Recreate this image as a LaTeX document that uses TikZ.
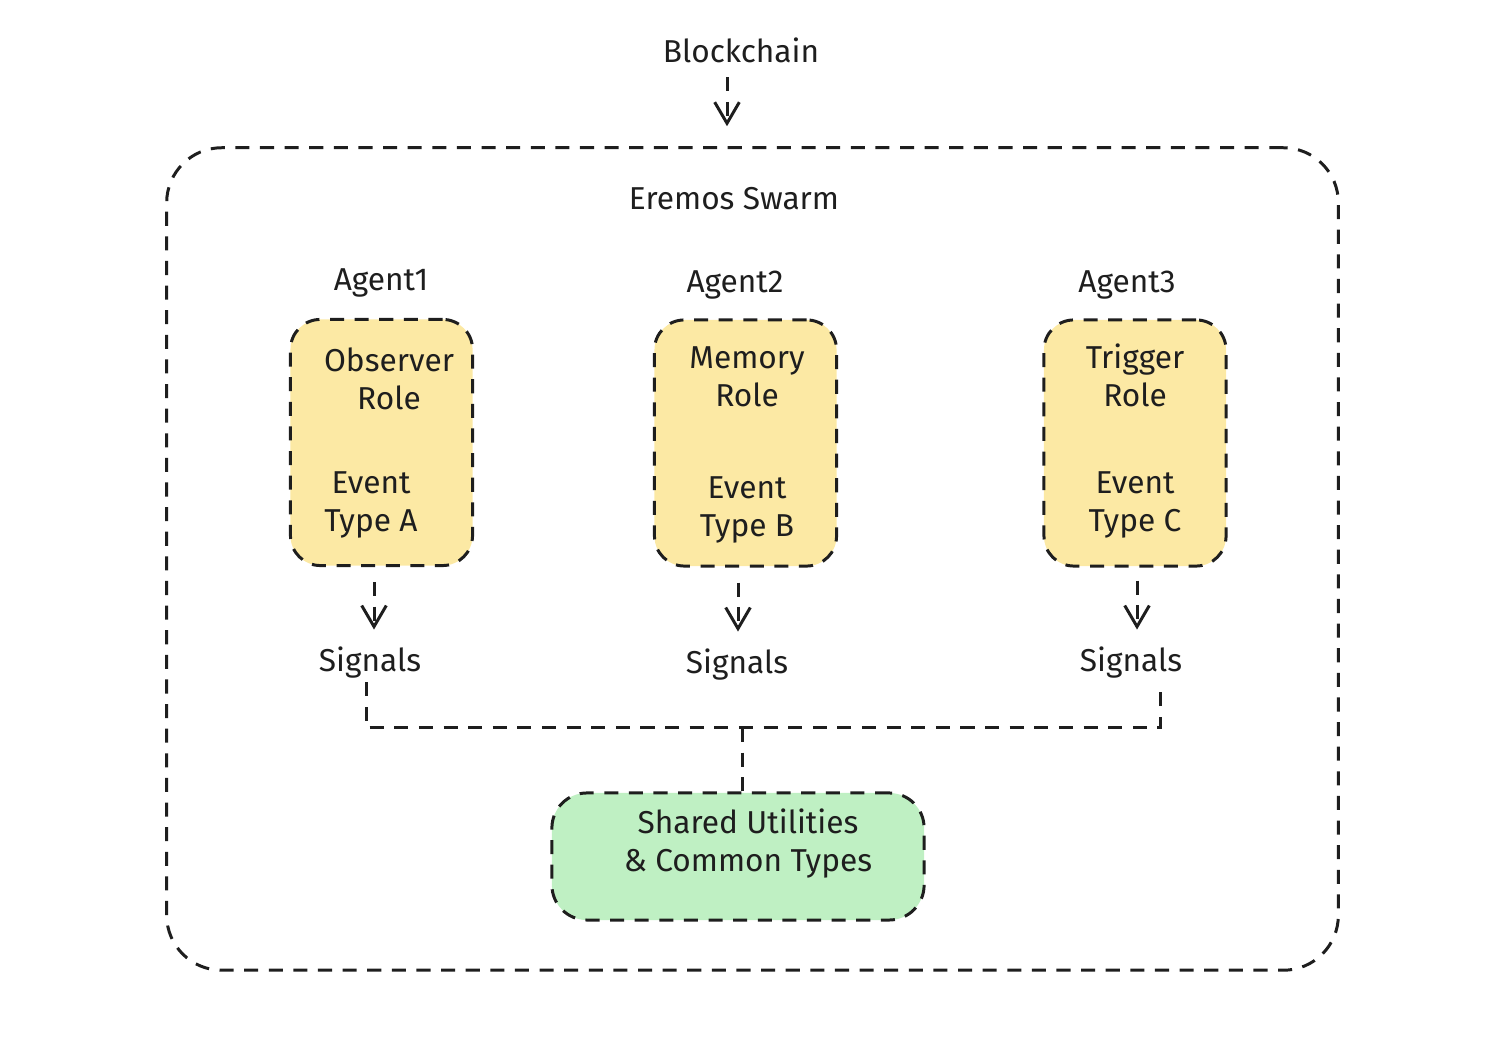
\documentclass[tikz,border=0pt]{standalone}
\usepackage{fontspec}
\setmainfont{Fira Sans}
\usetikzlibrary{arrows.meta,calc,positioning}
\definecolor{ink}{HTML}{1E1E1E}
\definecolor{roleyellow}{HTML}{FCE9A4}
\definecolor{sharedgreen}{HTML}{BFF0C3}

\begin{document}
\begin{tikzpicture}[x=0.01cm, y=0.01cm, every node/.style={font=\fontsize{9}{10.8}\selectfont, text=ink}]
    \tikzset{DashStyle/.style = {draw=ink, line width=0.85pt,
        dash pattern=on 4pt off 3pt},
      RoleStyle/.style = {DashStyle, fill=roleyellow, rounded corners=0.3cm,
        minimum width=1.82cm, minimum height=2.46cm},
      SharedStyle/.style = {DashStyle, fill=sharedgreen, rounded corners=0.35cm,
        minimum width=3.72cm, minimum height=1.27cm},
      TextStyle/.style = {inner sep=0pt, align=center},
      FlowStyle/.style = {DashStyle, -{Straight Barb[length=6pt,width=7pt]}},
      LinkStyle/.style = {DashStyle}}
    \useasboundingbox (0,0) rectangle (1507,1040);
    % outer swarm
    \node[DashStyle, rounded corners=0.55cm, minimum width=11.71cm, minimum height=8.22cm] (swarm) at (752.5,481) {};
    \node[TextStyle] (chain) at (741,990) {Blockchain};
    \node[TextStyle] (title) at (734,841) {Eremos Swarm};
    % agents
    \node[RoleStyle] (A1) at (381.5,597.5) {};
    \node[RoleStyle] (A2) at (745.5,597) {};
    \node[RoleStyle] (A3) at (1135,597) {};
    \node[TextStyle] (L1) at (381,757) {Agent1};
    \node[TextStyle] (L2) at (735,755) {Agent2};
    \node[TextStyle] (L3) at (1127,755) {Agent3};
    \node[TextStyle] (R1) at (389,661) {Observer\\Role};
    \node[TextStyle] (R2) at (747,663) {Memory\\Role};
    \node[TextStyle] (R3) at (1135,665) {Trigger\\Role};
    \node[TextStyle] (E1) at (371,535) {Event\\Type A};
    \node[TextStyle] (E2) at (747,530) {Event\\Type B};
    \node[TextStyle] (E3) at (1135,535) {Event\\Type C};
    \node[TextStyle] (S1) at (370,377) {Signals};
    \node[TextStyle] (S2) at (737,375) {Signals};
    \node[TextStyle] (S3) at (1131,377) {Signals};
    % shared part
    \node[SharedStyle] (shared) at (738,183.5) {};
    \node[TextStyle] (U) at (748,196) {Shared Utilities\\\& Common Types};
    \coordinate (join) at (742,312);
    \draw[FlowStyle] ($(chain.south)+(-14,-14)$) -- ($(swarm.north)+(-25.5,20)$);
    \draw[FlowStyle] ($(A1.south)+(-7.5,-15)$) -- ($(S1.north)+(4,17)$);
    \draw[FlowStyle] ($(A2.south)+(-7.5,-15)$) -- ($(S2.north)+(1,17)$);
    \draw[FlowStyle] ($(A3.south)+(2,-13)$) -- ($(S3.north)+(6,17)$);
    \draw[LinkStyle] ($(S1.south)+(-4,-3)$) |- (join) -| ($(S3.south)+(29,-3)$);
    \draw[LinkStyle] (join) -- (join |- shared.north);
\end{tikzpicture}
\end{document}
